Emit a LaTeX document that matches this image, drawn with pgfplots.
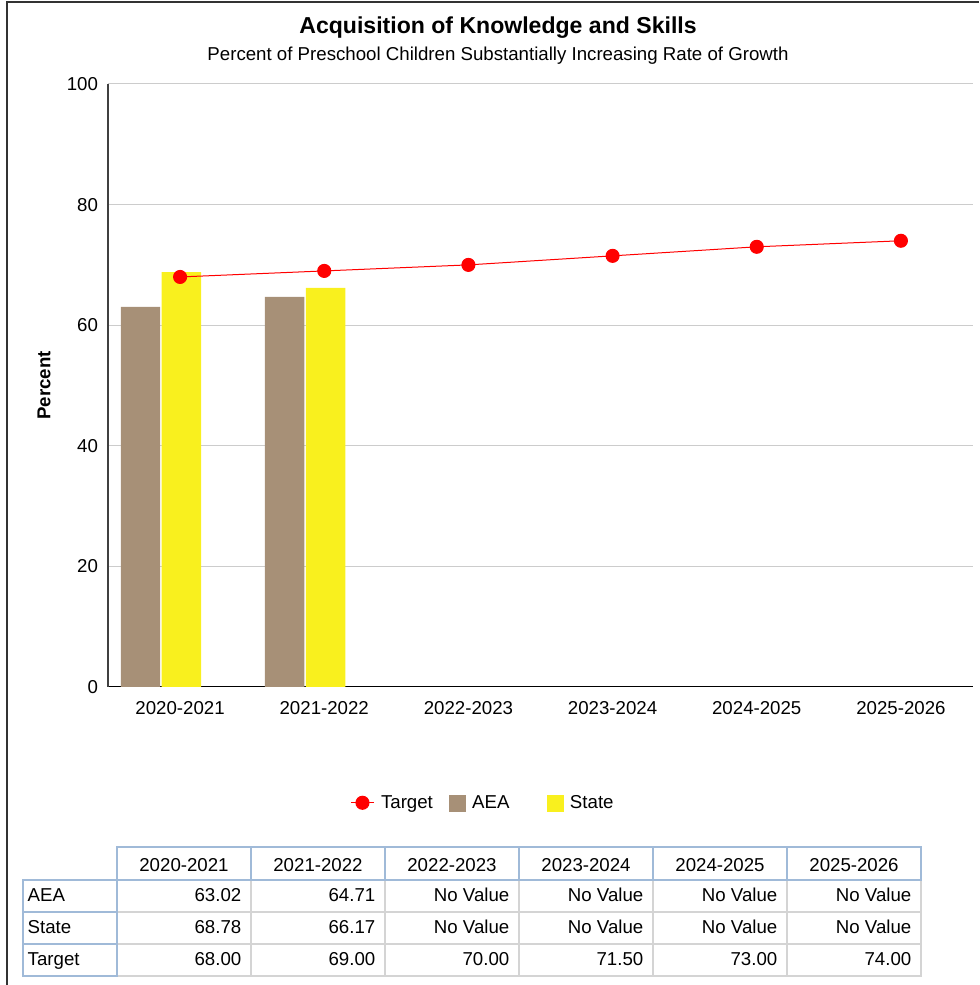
\documentclass[border=0pt]{standalone}
\usepackage{fontspec}
\setmainfont{Liberation Sans}
\usepackage{pgfplots}
\usepackage{pgfplotstable}
\pgfplotsset{compat=1.18}

\definecolor{aea}{RGB}{167,144,119}
\definecolor{statec}{RGB}{249,240,30}
\definecolor{hdrline}{RGB}{160,186,216}
\definecolor{cellline}{RGB}{212,212,212}

% bars: AEA and State
\pgfplotstableread{
x aea state
0 63.02 68.78
1 64.71 66.17
}\barsdata

% target line
\pgfplotstableread{
x target
0 68.00
1 69.00
2 70.00
3 71.50
4 73.00
5 74.00
}\targetdata

\newcommand\fs{\fontsize{14}{17}\selectfont}

\begin{document}
\begin{tikzpicture}
\useasboundingbox (0,0) rectangle (734.25pt,738.75pt);

\begin{axis}[
  at={(81pt,223.5pt)}, anchor=south west,
  scale only axis, width=648.75pt, height=452.25pt,
  xmin=-0.5, xmax=5.5, ymin=0, ymax=100,
  xtick={0,...,5},
  xticklabels={2020-2021,2021-2022,2022-2023,2023-2024,2024-2025,2025-2026},
  ytick={0,20,...,100},
  ymajorgrids,
  major grid style={draw=black!20, line width=0.75pt},
  axis x line*=bottom, axis y line*=left,
  axis line style={-},
  x axis line style={black, line width=0.75pt},
  y axis line style={black!75, line width=1pt},
  major tick length=0pt, tick style={draw=none},
  ticklabel style={font=\fs},
  /pgf/number format/assume math mode=true,
  yticklabel style={xshift=-4pt},
  xticklabel style={yshift=-7.25pt},
  ylabel={\bfseries Percent},
  ylabel style={font=\fs, at={(axis description cs:-0.074,0.5)}, anchor=center},
  legend style={at={(0.434,-0.192)}, anchor=center, draw=none, fill=none,
    legend columns=-1, font=\fs,
    /tikz/every odd column/.append style={column sep=3pt},
    /tikz/every even column/.append style={column sep=10pt}},
  legend cell align=left,
]
\addplot[ybar, bar width=29.5pt, bar shift=-29.7pt, fill=aea, draw=none, forget plot]
  table[x=x, y=aea] {\barsdata};
\addplot[ybar, bar width=29.5pt, bar shift=1pt, fill=statec, draw=none, forget plot]
  table[x=x, y=state] {\barsdata};
\addplot[red, line width=0.75pt, mark=*, mark size=4.9pt,
  mark options={draw=none, fill=red}, forget plot]
  table[x=x, y=target] {\targetdata};

\addlegendimage{red, line width=0.75pt, mark=*, mark size=4.9pt, mark options={draw=none, fill=red}}
\addlegendimage{legend image code/.code={\fill[aea] (0pt,-6pt) rectangle (12pt,6pt);}}
\addlegendimage{legend image code/.code={\fill[statec] (0pt,-6pt) rectangle (12pt,6pt);}}
\legend{Target, AEA\hspace*{16pt}, State}
\end{axis}

\begin{scope}[x=0.75pt, y=-0.75pt, shift={(0pt,738.75pt)}]
  % frame lines
  \draw[black!80, line width=1.5pt] (7,985) -- (7,2.5) -- (979,2.5);
  % titles
  \node[font=\fontsize{17.3}{20}\selectfont\bfseries] at (498,28) {Acquisition of Knowledge and Skills};
  \node[font=\fs] at (498,56) {Percent of Preschool Children Substantially Increasing Rate of Growth};

  % table grid
  \foreach \c in {0,...,5} {
    \foreach \r/\yt in {0/880,1/912,2/944} {
      \draw[cellline, line width=1.1pt] ({117+134*\c},\yt) rectangle ({251+134*\c},\yt+32);
    }
  }
  \foreach \c/\lab in {0/2020-2021,1/2021-2022,2/2022-2023,3/2023-2024,4/2024-2025,5/2025-2026} {
    \draw[hdrline, line width=1.1pt] ({117+134*\c},847) rectangle ({251+134*\c},880);
    \node[font=\fs, anchor=base] at ({184+134*\c},871.5) {\lab};
  }
  \foreach \r/\yt/\lab in {0/880/AEA,1/912/State,2/944/Target} {
    \draw[hdrline, line width=1.1pt] (23,\yt) rectangle (117,\yt+32);
    \node[font=\fs, anchor=base west] at (23,\yt+22) {\lab};
  }
  \foreach \c/\v in {0/63.02,1/64.71,2/No Value,3/No Value,4/No Value,5/No Value} {
    \node[font=\fs, anchor=base east] at ({246+134*\c},902) {\v};
  }
  \foreach \c/\v in {0/68.78,1/66.17,2/No Value,3/No Value,4/No Value,5/No Value} {
    \node[font=\fs, anchor=base east] at ({246+134*\c},934) {\v};
  }
  \foreach \c/\v in {0/68.00,1/69.00,2/70.00,3/71.50,4/73.00,5/74.00} {
    \node[font=\fs, anchor=base east] at ({246+134*\c},966) {\v};
  }
\end{scope}
\end{tikzpicture}
\end{document}
